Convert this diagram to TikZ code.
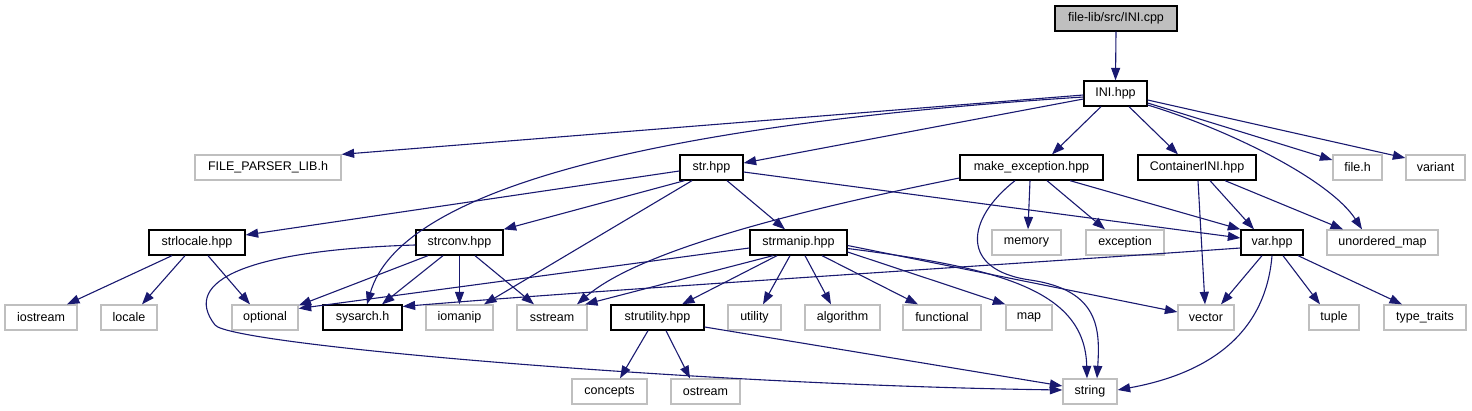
\documentclass[tikz,border=0pt]{standalone}
\usepackage{fontspec}
\setmainfont{Liberation Sans}
\usetikzlibrary{arrows.meta}
\definecolor{edgec}{HTML}{191970}
\definecolor{gb}{HTML}{BFBFBF}
\tikzset{
  box/.style={draw=black, line width=1.3pt, fill=white, minimum height=25pt, inner sep=0pt,
    font=\fontsize{12.5}{14}\selectfont, text=black},
  ext/.style={box, draw=gb},
  root/.style={box, fill=gb},
  dep/.style={draw=edgec, line width=1.1pt, -{Triangle[length=12.5pt,width=9pt]}},
}
\begin{document}
\begin{tikzpicture}[x=1pt,y=-1pt]
\useasboundingbox (0,0) rectangle (1472,411);
% row 0
\node[root, minimum width=122pt] (cpp) at (1116,18.5) {file-lib/src/INI.cpp};
% row 1
\node[box, minimum width=63pt] (ini) at (1115.5,93.5) {INI.hpp};
% row 2
\node[ext, minimum width=146pt] (fpl) at (268,167.5) {FILE\_PARSER\_LIB.h};
\node[box, minimum width=63pt] (str) at (711.5,167.5) {str.hpp};
\node[box, minimum width=143pt] (mke) at (1031.5,167.5) {make\_exception.hpp};
\node[box, minimum width=118pt] (cont) at (1197,167.5) {ContainerINI.hpp};
\node[ext, minimum width=49pt] (fileh) at (1357.5,167.5) {file.h};
\node[ext, minimum width=59pt] (variant) at (1435.5,167.5) {variant};
% row 3
\node[box, minimum width=96pt] (strlocale) at (197,242.5) {strlocale.hpp};
\node[box, minimum width=87pt] (strconv) at (459.5,242.5) {strconv.hpp};
\node[box, minimum width=97pt] (strmanip) at (798.5,242.5) {strmanip.hpp};
\node[ext, minimum width=69pt] (memory) at (1026.5,242.5) {memory};
\node[ext, minimum width=78pt] (exception) at (1125,242.5) {exception};
\node[box, minimum width=62pt] (var) at (1272,242.5) {var.hpp};
\node[ext, minimum width=111pt] (umap) at (1382.5,242.5) {unordered\_map};
% row 4
\node[ext, minimum width=72pt] (iostream) at (41,317.5) {iostream};
\node[ext, minimum width=56pt] (locale) at (129,317.5) {locale};
\node[ext, minimum width=66pt] (optional) at (265,317.5) {optional};
\node[box, minimum width=79pt] (sysarch) at (362.5,317.5) {sysarch.h};
\node[ext, minimum width=67pt] (iomanip) at (459.5,317.5) {iomanip};
\node[ext, minimum width=70pt] (sstream) at (552,317.5) {sstream};
\node[box, minimum width=93pt] (strutility) at (657.5,317.5) {strutility.hpp};
\node[ext, minimum width=53pt] (utility) at (754.5,317.5) {utility};
\node[ext, minimum width=75pt] (algorithm) at (842.5,317.5) {algorithm};
\node[ext, minimum width=78pt] (functional) at (942,317.5) {functional};
\node[ext, minimum width=46pt] (map) at (1029,317.5) {map};
\node[ext, minimum width=56pt] (vector) at (1206,317.5) {vector};
\node[ext, minimum width=50pt] (tuple) at (1334,317.5) {tuple};
\node[ext, minimum width=82pt] (tt) at (1425,317.5) {type\_traits};
% row 5
\node[ext, minimum width=75pt] (concepts) at (609.5,391.5) {concepts};
\node[ext, minimum width=69pt] (ostream) at (705.5,391.5) {ostream};
\node[ext, minimum width=54pt] (string) at (1090,391.5) {string};

% edges: INI.cpp, INI.hpp
\draw[dep] (cpp.south) -- (ini.north);
\draw[dep] ([yshift=-1.5pt]ini.west) -- (fpl.north east);
\draw[dep] ([yshift=-5.5pt]ini.west) -- ([yshift=4.5pt]str.east);
\draw[dep] ([yshift=-3.5pt]ini.west) .. controls (650,125) and (400,190) .. ([xshift=4.5pt]sysarch.north);
\draw[dep] ([xshift=-14.5pt]ini.south) -- ([xshift=20.5pt]mke.north);
\draw[dep] ([xshift=13.5pt]ini.south) -- ([xshift=-19pt]cont.north);
\draw[dep] ([yshift=-11.5pt]ini.east) .. controls (1230,130) and (1330,180) .. ([xshift=-20.5pt]umap.north);
\draw[dep] ([yshift=-9.5pt]ini.east) -- ([yshift=7.5pt]fileh.west);
\draw[dep] ([yshift=-6.5pt]ini.east) -- ([yshift=9.5pt]variant.west);
% str.hpp
\draw[dep] ([yshift=-3.5pt]str.west) -- ([yshift=7.5pt]strlocale.east);
\draw[dep] ([xshift=-27pt]str.south) -- (strconv.north east);
\draw[dep] ([xshift=15.5pt]str.south) -- ([xshift=-13.5pt]strmanip.north);
\draw[dep] ([xshift=-19.5pt]str.south) -- ([xshift=24.5pt]iomanip.north);
\draw[dep] ([yshift=-4.5pt]str.east) -- ([yshift=4.5pt]var.west);
% make_exception.hpp
\draw[dep] ([yshift=-10.5pt]mke.west) .. controls (800,210) and (640,250) .. ([xshift=25pt]sstream.north);
\draw[dep] ([xshift=-16.5pt]mke.south) .. controls (965,220) and (960,270) .. (1030,280)
   .. controls (1100,290) and (1100,330) .. ([xshift=7pt]string.north);
\draw[dep] ([xshift=-1.5pt]mke.south) -- ([xshift=1.5pt]memory.north);
\draw[dep] ([xshift=15.5pt]mke.south) -- ([xshift=-20pt]exception.north);
\draw[dep] ([xshift=38.5pt]mke.south) -- (var.north west);
% ContainerINI.hpp
\draw[dep] ([xshift=1pt]cont.south) -- ([xshift=-1pt]vector.north);
\draw[dep] ([xshift=13pt]cont.south) -- ([xshift=-18pt]var.north);
\draw[dep] ([xshift=28pt]cont.south) -- ([xshift=-39.5pt]umap.north);
% strlocale.hpp
\draw[dep] ([xshift=-25pt]strlocale.south) -- ([xshift=26pt]iostream.north);
\draw[dep] ([xshift=-12pt]strlocale.south) -- ([xshift=13pt]locale.north);
\draw[dep] ([xshift=11pt]strlocale.south) -- ([xshift=-15pt]optional.north);
% strconv.hpp
\draw[dep] ([xshift=-31.5pt]strconv.south) -- ([yshift=12pt]optional.east);
\draw[dep] ([xshift=-16.5pt]strconv.south) -- ([xshift=19.5pt]sysarch.north);
\draw[dep] (strconv.south) -- (iomanip.north);
\draw[dep] ([xshift=15.5pt]strconv.south) -- ([xshift=-18pt]sstream.north);
\draw[dep] ([yshift=-2.5pt]strconv.west) .. controls (250,250) and (180,280) .. (215,325)
   .. controls (230,345) and (700,385) .. ([yshift=1.5pt]string.west);
% strmanip.hpp
\draw[dep] ([yshift=-5.5pt]strmanip.west) -- ([yshift=9pt]optional.east);
\draw[dep] ([xshift=-25.5pt]strmanip.south) -- ([xshift=33pt]sstream.north);
\draw[dep] ([xshift=-21.5pt]strmanip.south) -- ([xshift=24.5pt]strutility.north);
\draw[dep] ([xshift=-8.5pt]strmanip.south) -- ([xshift=8.5pt]utility.north);
\draw[dep] ([xshift=6.5pt]strmanip.south) -- ([xshift=-11.5pt]algorithm.north);
\draw[dep] ([xshift=23.5pt]strmanip.south) -- ([xshift=-24pt]functional.north);
\draw[dep] ([yshift=-9.5pt]strmanip.east) -- (map.north west);
\draw[dep] ([yshift=-3pt]strmanip.east) -- ([yshift=5.5pt]vector.west);
\draw[dep] ([yshift=-6pt]strmanip.east) .. controls (1000,268) and (1085,290) .. ([xshift=-3pt]string.north);
% var.hpp
\draw[dep] ([yshift=-5.5pt]var.west) .. controls (1000,265) and (600,290) .. ([yshift=11pt]sysarch.east);
\draw[dep] ([xshift=-10pt]var.south) -- ([xshift=15pt]vector.north);
\draw[dep] (var.south) .. controls (1265,340) and (1200,375) .. ([yshift=1.5pt]string.east);
\draw[dep] ([xshift=11pt]var.south) -- ([xshift=-14pt]tuple.north);
\draw[dep] ([xshift=26pt]var.south) -- ([xshift=-23pt]tt.north);
% strutility.hpp
\draw[dep] ([xshift=-9.5pt]strutility.south) -- ([xshift=10.5pt]concepts.north);
\draw[dep] ([xshift=8.5pt]strutility.south) -- ([xshift=-15.5pt]ostream.north);
\draw[dep] ([yshift=-9.5pt]strutility.east) -- ([yshift=5.5pt]string.west);
\end{tikzpicture}
\end{document}
